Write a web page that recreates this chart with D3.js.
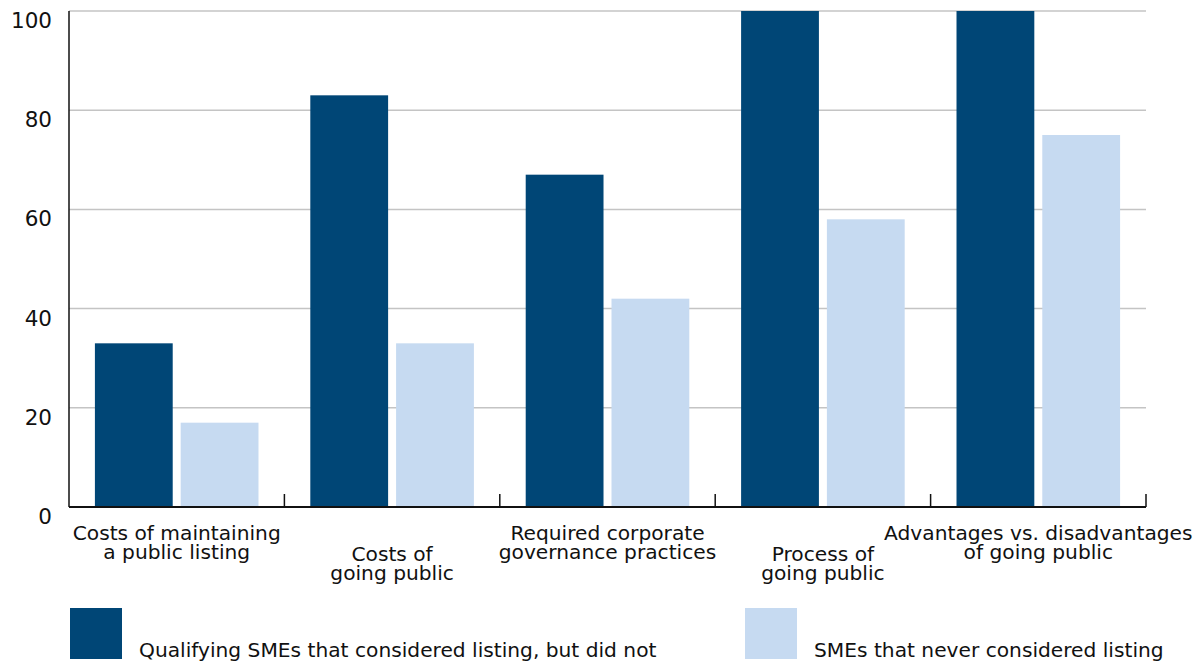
<!DOCTYPE html>
<html>
<head>
<meta charset="utf-8">
<script src="https://cdn.jsdelivr.net/npm/d3@7"></script>
<style>
  html, body { margin: 0; padding: 0; background: #fff; }
  svg { display: block; font-family: "DejaVu Sans", sans-serif; }
</style>
</head>
<body>
<svg id="chart" width="1200" height="664"></svg>
<script>
const categories = [
  "Costs of maintaining\na public listing",
  "Costs of\ngoing public",
  "Required corporate\ngovernance practices",
  "Process of\ngoing public",
  "Advantages vs. disadvantages\nof going public"
];
const seriesNames = [
  "Qualifying SMEs that considered listing, but did not",
  "SMEs that never considered listing"
];
const consideredValues = [33, 83, 67, 100, 100];
const neverValues = [17, 33, 42, 58, 75];
const yTicks = [0, 20, 40, 60, 80, 100];
const colors = ["#004676", "#c6daf1"];

(function () {
const svg = d3.select("#chart");
const pLeft = 69, pRight = 1146, pTop = 11, pBottom = 507;

const x = d3.scaleBand().domain(d3.range(categories.length)).range([pLeft, pRight]).paddingInner(0).paddingOuter(0);
const xs = d3.scaleBand().domain(d3.range(seriesNames.length)).range([0, x.bandwidth()]).paddingInner(0.093).paddingOuter(0.302);
const y = d3.scaleLinear().domain([0, 100]).range([pBottom, pTop]);

// gridlines
svg.append("g").selectAll("line").data(yTicks.filter(d => d > 0)).join("line")
  .attr("x1", pLeft).attr("x2", pRight)
  .attr("y1", d => y(d)).attr("y2", d => y(d))
  .attr("stroke", "#c4c4c4").attr("stroke-width", 1.5);

// bars
const data = categories.map((c, i) => [consideredValues[i], neverValues[i]]);
const groups = svg.append("g").selectAll("g").data(data).join("g")
  .attr("transform", (d, i) => `translate(${x(i)},0)`);
groups.selectAll("rect").data(d => d).join("rect")
  .attr("x", (d, j) => xs(j))
  .attr("width", xs.bandwidth())
  .attr("y", d => y(d))
  .attr("height", d => y(0) - y(d))
  .attr("fill", (d, j) => colors[j]);

// y axis line
svg.append("line").attr("x1", pLeft).attr("x2", pLeft).attr("y1", pTop).attr("y2", pBottom)
  .attr("stroke", "#111").attr("stroke-width", 1.5);

// x axis baseline
svg.append("line").attr("x1", pLeft).attr("x2", pRight).attr("y1", pBottom).attr("y2", pBottom)
  .attr("stroke", "#111").attr("stroke-width", 2.2);

// category boundary ticks
const boundaries = d3.range(1, categories.length + 1).map(i => i === categories.length ? pRight : x(i));
svg.append("g").selectAll("line").data(boundaries).join("line")
  .attr("x1", d => d).attr("x2", d => d)
  .attr("y1", pBottom).attr("y2", pBottom - 13)
  .attr("stroke", "#111").attr("stroke-width", 1.5);

// y tick labels
svg.append("g").selectAll("text").data(yTicks).join("text")
  .attr("x", 52).attr("y", d => y(d) + 17)
  .attr("text-anchor", "end")
  .attr("font-size", 21.5)
  .attr("fill", "#111")
  .text(d => d);

// category labels (staggered)
const labels = svg.append("g").selectAll("text").data(categories).join("text")
  .attr("text-anchor", "middle")
  .attr("font-size", 20.2)
  .attr("fill", "#111")
  .attr("transform", (d, i) => `translate(${x(i) + x.bandwidth() / 2},${i % 2 === 0 ? 540 : 561})`);
labels.selectAll("tspan").data(d => d.split("\n")).join("tspan")
  .attr("x", 0).attr("dy", (d, k) => k === 0 ? 0 : 18.5)
  .text(d => d);

// legend
const legendX = [70, 745];
const lg = svg.append("g").selectAll("g").data(seriesNames).join("g")
  .attr("transform", (d, i) => `translate(${legendX[i]},608)`);
lg.append("rect").attr("width", 52).attr("height", 51).attr("fill", (d, i) => colors[i]);
lg.append("text").attr("x", 69).attr("y", 49)
  .attr("font-size", 20.2).attr("fill", "#111").text(d => d);
})();
</script>
</body>
</html>
